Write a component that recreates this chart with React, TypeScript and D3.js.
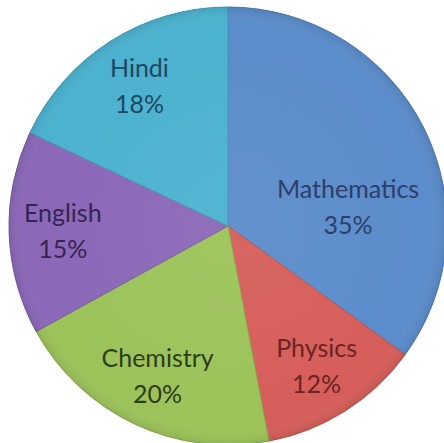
import React from "react";
import * as d3 from "d3";

const subjects = ["Mathematics", "Physics", "Chemistry", "English", "Hindi"];
const shares = [35, 12, 20, 15, 18];
const sliceColors = ["#5B8CCB", "#D65E5A", "#9CC35A", "#8B68B8", "#4BB2CF"];
const textColors = ["#2C3F6A", "#6B2424", "#2E3D18", "#33264F", "#1E4862"];

const W = 444;
const H = 443;

export default function App() {
  const cx = 228;
  const cy = 226;
  const r = 219;
  const pie = d3.pie<number>().sort(null).value((d) => d);
  const arcs = pie(shares);
  const arcGen = d3.arc<d3.PieArcDatum<number>>().innerRadius(0).outerRadius(r);
  const fs = 25;

  const labelPos = (a: d3.PieArcDatum<number>, i: number) => {
    let ang = (a.startAngle + a.endAngle) / 2;
    let rad = r * 0.755;
    if (i === 0) {
      // Excel "best fit" placed this label horizontally
      ang = (81 * Math.PI) / 180;
      rad = r * 0.555;
    }
    return [Math.sin(ang) * rad, -Math.cos(ang) * rad];
  };

  return (
    <svg
      width={W}
      height={H}
      style={{ position: "absolute", left: 0, top: 0, background: "#ffffff" }}
    >
      <defs>
        <radialGradient id="shade" cx="50%" cy="50%" r="50%">
          <stop offset="0%" stopColor="#ffffff" stopOpacity={0.05} />
          <stop offset="92%" stopColor="#ffffff" stopOpacity={0} />
          <stop offset="100%" stopColor="#000000" stopOpacity={0.08} />
        </radialGradient>
      </defs>
      <g transform={`translate(${cx},${cy})`}>
        {arcs.map((a, i) => (
          <path
            key={subjects[i]}
            d={arcGen(a) || ""}
            fill={sliceColors[i]}
            stroke={d3.color(sliceColors[i])!.darker(0.4).toString()}
            strokeWidth={1}
          />
        ))}
        <circle r={r} fill="url(#shade)" />
        {arcs.map((a, i) => {
          const [x, y] = labelPos(a, i);
          return (
            <text
              key={"t" + subjects[i]}
              x={x}
              y={y}
              textAnchor="middle"
              fill={textColors[i]}
              fontFamily="Lato, 'Open Sans', sans-serif"
              fontSize={fs}
            >
              <tspan x={x} dy="-0.36em">
                {subjects[i]}
              </tspan>
              <tspan x={x} dy="1.44em">
                {shares[i]}%
              </tspan>
            </text>
          );
        })}
      </g>
    </svg>
  );
}
